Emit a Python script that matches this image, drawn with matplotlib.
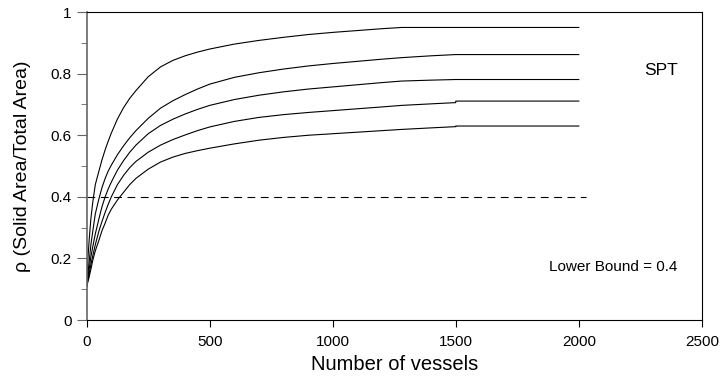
import matplotlib
matplotlib.use("Agg")
import matplotlib.pyplot as plt
from matplotlib.ticker import MultipleLocator, FuncFormatter

plt.rcParams['font.family'] = ['Liberation Sans', 'DejaVu Sans']

# x positions (number of vessels); 1500 repeated to show the small step
vessels = [0, 5, 10, 17, 25, 35, 50, 62, 75, 87, 100, 125, 150, 175, 200, 250, 300, 350,
           400, 450, 500, 600, 700, 800, 900, 1000, 1100, 1200, 1280, 1400, 1500, 1500, 2000]

rho_1 = [0.11, 0.20, 0.26, 0.33, 0.385, 0.44, 0.485, 0.52, 0.553, 0.58, 0.607, 0.653, 0.69, 0.72, 0.745,
         0.79, 0.822, 0.843, 0.858, 0.870, 0.880, 0.896, 0.908, 0.918, 0.927, 0.934, 0.940, 0.946,
         0.950, 0.950, 0.950, 0.950, 0.950]
rho_2 = [0.11, 0.15, 0.19, 0.245, 0.29, 0.345, 0.395, 0.43, 0.46, 0.483, 0.503, 0.537, 0.566, 0.592, 0.615,
         0.655, 0.688, 0.712, 0.732, 0.750, 0.766, 0.788, 0.803, 0.815, 0.825, 0.833, 0.840, 0.847,
         0.852, 0.858, 0.862, 0.862, 0.862]
rho_3 = [0.11, 0.14, 0.165, 0.205, 0.24, 0.28, 0.33, 0.368, 0.40, 0.425, 0.448, 0.487, 0.518, 0.545, 0.568,
         0.605, 0.632, 0.652, 0.669, 0.684, 0.697, 0.716, 0.730, 0.741, 0.750, 0.757, 0.764, 0.771,
         0.776, 0.779, 0.781, 0.781, 0.781]
rho_4 = [0.11, 0.13, 0.15, 0.18, 0.21, 0.245, 0.29, 0.32, 0.35, 0.375, 0.40, 0.44, 0.47, 0.495, 0.515,
         0.545, 0.568, 0.586, 0.601, 0.615, 0.627, 0.645, 0.658, 0.667, 0.674, 0.680, 0.686, 0.692,
         0.697, 0.702, 0.706, 0.711, 0.711]
rho_5 = [0.11, 0.125, 0.14, 0.165, 0.195, 0.225, 0.26, 0.29, 0.315, 0.34, 0.36, 0.39, 0.415, 0.44, 0.46,
         0.49, 0.513, 0.529, 0.541, 0.550, 0.558, 0.572, 0.584, 0.593, 0.600, 0.605, 0.610, 0.615,
         0.619, 0.624, 0.628, 0.630, 0.630]

bound_x = [0, 2030]
bound_y = [0.4, 0.4]

x_ticks = [0, 500, 1000, 1500, 2000, 2500]
y_ticks = [0, 0.2, 0.4, 0.6, 0.8, 1.0]

fig = plt.figure(figsize=(7.25, 3.77), dpi=100)
ax = fig.add_axes([0.1196, 0.151, 0.8484, 0.817])

for r in (rho_1, rho_2, rho_3, rho_4, rho_5):
    ax.plot(vessels, r, color='black', lw=0.8)

ax.plot(bound_x, bound_y, color='black', lw=0.8, dashes=(7, 5))

ax.set_xlim(0, 2500)
ax.set_ylim(0, 1)
ax.set_xticks(x_ticks)
ax.set_yticks(y_ticks)
ax.yaxis.set_minor_locator(MultipleLocator(0.1))
ax.yaxis.set_major_formatter(FuncFormatter(lambda v, p: f"{v:g}"))

ax.tick_params(axis='both', which='major', direction='out', labelsize=11, color='black')
ax.tick_params(axis='y', which='major', length=7, color='#666666', pad=4)
ax.tick_params(axis='y', which='minor', length=4, color='#666666')
ax.tick_params(axis='x', which='major', length=5, pad=6)

for s in ('top', 'right', 'bottom'):
    ax.spines[s].set_linewidth(0.8)
    ax.spines[s].set_color('black')
ax.spines['left'].set_color('#666666')
ax.spines['left'].set_linewidth(1.2)

ax.set_xlabel('Number of vessels', fontsize=14.5, labelpad=4)
ax.set_ylabel('ρ (Solid Area/Total Area)', fontsize=14, labelpad=14)

ax.text(2334, 0.81, 'SPT', fontsize=12.5, ha='center', va='center')
ax.text(2140, 0.172, 'Lower Bound = 0.4', fontsize=11, ha='center', va='center')

fig.savefig('out.png', dpi=100)
